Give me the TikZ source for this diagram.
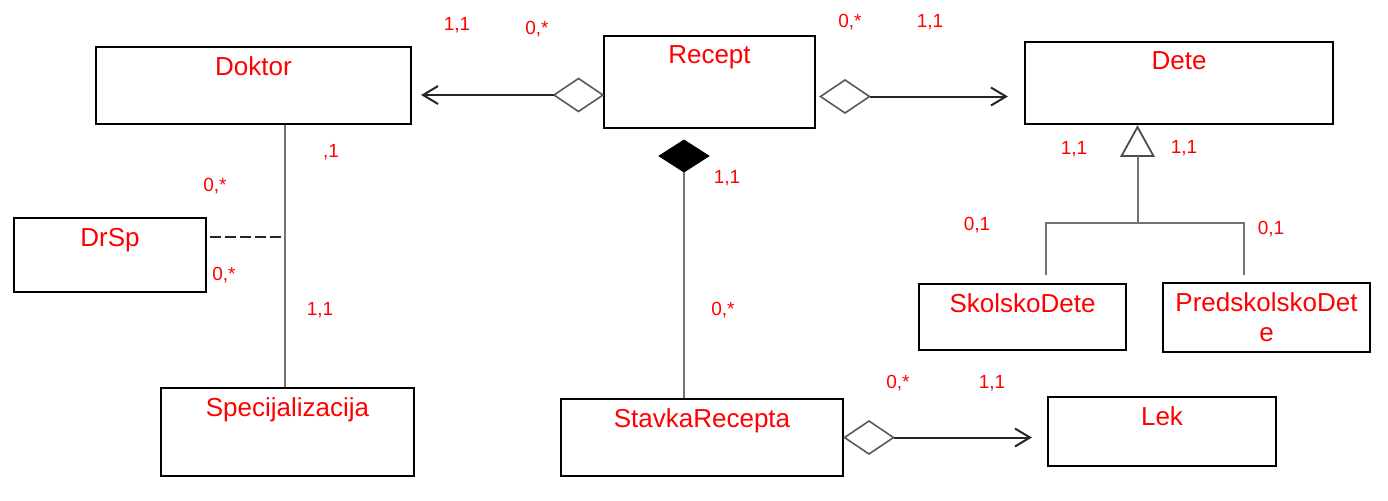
\documentclass[tikz,border=0pt]{standalone}
\usepackage{fontspec}
\setmainfont{Liberation Sans}
\usetikzlibrary{arrows.meta,shapes.geometric}
\def\W{1388}
\def\H{500}
\tikzset{
  cls/.style 2 args={draw, line width=1.1pt, inner sep=0pt, minimum width=#1, minimum height=#2},
  ttl/.style={anchor=north, yshift=-2pt, text=red, font=\fontsize{13}{15}\selectfont},
  mult/.style={text=red, inner sep=0pt, font=\fontsize{9.5}{11}\selectfont},
  agg/.style={diamond, draw=black!65, fill=white, line width=0.8pt, inner sep=0pt, outer sep=0pt, minimum width=24.5pt, minimum height=16.5pt},
  comp/.style={diamond, draw, fill=black, inner sep=0pt, outer sep=0pt, minimum width=25pt, minimum height=16pt},
  assoc/.style={draw=black!85, line width=1pt, -{Straight Barb[length=7.5pt,width=9pt]}},
  lnk/.style={draw=black!55, line width=1pt},
  dsh/.style={draw=black!85, line width=1.2pt, dash pattern=on 5.5pt off 2pt}
}
\begin{document}
\begin{tikzpicture}[x=0.5pt, y=-0.5pt]
	\useasboundingbox (0,0) rectangle (\W,\H);
	% classes
	\node[cls={157.5pt}{38.5pt}, label={[ttl]north:Doktor}] (doktor) at (253.5,85.5) {};
	\node[cls={105.5pt}{46pt}, label={[ttl]north:Recept}] (recept) at (709.5,82) {};
	\node[cls={154pt}{41pt}, label={[ttl]north:Dete}] (dete) at (1179,83) {};
	\node[cls={96pt}{37pt}, label={[ttl]north:DrSp}] (drsp) at (110,255) {};
	\node[cls={126.5pt}{44pt}, label={[ttl]north:Specijalizacija}] (spec) at (287.5,432) {};
	\node[cls={141pt}{38.5pt}, label={[ttl]north:StavkaRecepta}] (stavka) at (702,437.5) {};
	\node[cls={103.5pt}{33pt}, label={[ttl]north:SkolskoDete}] (skolsko) at (1022.5,317) {};
	\node[cls={103.5pt}{34.5pt}, label={[ttl, align=center]north:{PredskolskoDet\\e}}] (predsk) at (1266.5,317.5) {};
	\node[cls={114pt}{34.5pt}, label={[ttl]north:Lek}] (lek) at (1162,431.5) {};
	% aggregations
	\node[agg] (agg1) at (578.5,95) {};
	\node[agg] (agg2) at (845,96.5) {};
	\node[agg] (agg3) at (869,437.5) {};
	\draw[assoc, shorten >=4.5pt] (agg1.west) -- (doktor.east |- agg1.west);
	\draw[assoc, shorten >=8pt] (agg2.east) -- (dete.west |- agg2.east);
	\draw[assoc, shorten >=7.5pt] (agg3.east) -- (lek.west |- agg3.east);
	% composition
	\node[comp] (cmp) at (684,156) {};
	\draw[lnk] (cmp.south) -- (cmp.south |- stavka.north);
	% Doktor - Specijalizacija, DrSp
	\coordinate (dj) at (285,237);
	\draw[lnk] (doktor.south -| dj) -- (spec.north -| dj);
	\draw[dsh] ([xshift=1.5pt]drsp.east |- dj) -- (dj);
	% generalization
	\coordinate (gtip) at (1137.5,127);
	\coordinate (gbase) at (1137.5,156);
	\coordinate (gjoin) at (1137.5,223);
	\coordinate (sk) at (1046,275);
	\coordinate (pr) at (1244,275);
	\draw[draw=black!70, line width=0.9pt, fill=white] (gtip) -- (1121.5,156) -- (1153.5,156) -- cycle;
	\draw[lnk] (gbase) -- (gjoin);
	\draw[lnk] (sk) |- (gjoin) -| (pr);
	% multiplicities
	\node[mult] (m1) at (457,25) {1,1};
	\node[mult] (m2) at (537,29) {0,*};
	\node[mult] (m3) at (850,22) {0,*};
	\node[mult] (m4) at (930,22) {1,1};
	\node[mult] (m5) at (331,152) {,1};
	\node[mult] (m6) at (215,186) {0,*};
	\node[mult] (m7) at (224,275) {0,*};
	\node[mult] (m8) at (320,310) {1,1};
	\node[mult] (m9) at (1074,149) {1,1};
	\node[mult] (m10) at (1184,148) {1,1};
	\node[mult] (m11) at (977,225) {0,1};
	\node[mult] (m12) at (1271,229) {0,1};
	\node[mult] (m13) at (727,178) {1,1};
	\node[mult] (m14) at (723,310) {0,*};
	\node[mult] (m15) at (898,383) {0,*};
	\node[mult] (m16) at (992,383) {1,1};
\end{tikzpicture}
\end{document}
